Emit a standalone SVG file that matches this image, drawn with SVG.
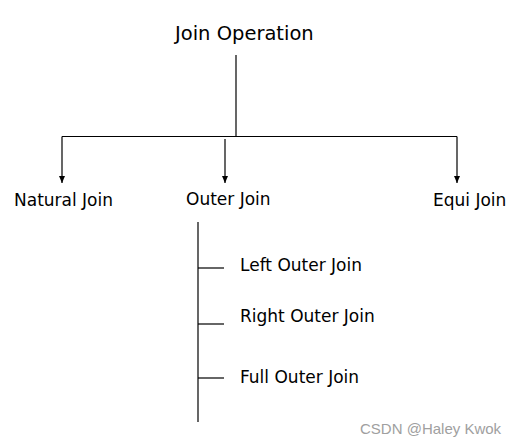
<svg xmlns="http://www.w3.org/2000/svg" width="517" height="446" viewBox="0 0 517 446">
<style>
.t{font-family:"DejaVu Sans",Verdana,sans-serif;font-size:17px;fill:#000}
.title{font-size:19.5px}
.c line{stroke:#000;stroke-width:1.2}
.wm{font-family:"Liberation Sans",Arial,sans-serif;font-size:15px;fill:#a0a0a0}
</style>
<defs>
<marker id="ah" viewBox="0 0 7 6" refX="7" refY="3" markerWidth="7" markerHeight="6" markerUnits="userSpaceOnUse" orient="auto">
<path d="M0,0 L7,3 L0,6 Z" fill="#000"/>
</marker>
</defs>
<rect width="517" height="446" fill="#fff"/>
<g class="c" id="connectors">
<line x1="236" y1="55" x2="236" y2="136.5"/>
<line x1="62" y1="136.5" x2="457" y2="136.5"/>
<line x1="62" y1="136.5" x2="62" y2="183" marker-end="url(#ah)"/>
<line x1="225" y1="139" x2="225" y2="183" marker-end="url(#ah)"/>
<line x1="457" y1="136.5" x2="457" y2="183" marker-end="url(#ah)"/>
<line x1="198" y1="222" x2="198" y2="422"/>
<line x1="198" y1="268" x2="224" y2="268"/>
<line x1="198" y1="324" x2="224" y2="324"/>
<line x1="198" y1="378" x2="224" y2="378"/>
</g>
<g id="join-operation"><text class="t title" x="175" y="40">Join Operation</text></g>
<g id="natural-join"><text class="t" x="14" y="206">Natural Join</text></g>
<g id="outer-join"><text class="t" x="186" y="205">Outer Join</text></g>
<g id="equi-join"><text class="t" x="433" y="206">Equi Join</text></g>
<g id="left-outer-join"><text class="t" x="240" y="271">Left Outer Join</text></g>
<g id="right-outer-join"><text class="t" x="240" y="322">Right Outer Join</text></g>
<g id="full-outer-join"><text class="t" x="240" y="383">Full Outer Join</text></g>
<text class="wm" x="360" y="434">CSDN @Haley Kwok</text>
</svg>
